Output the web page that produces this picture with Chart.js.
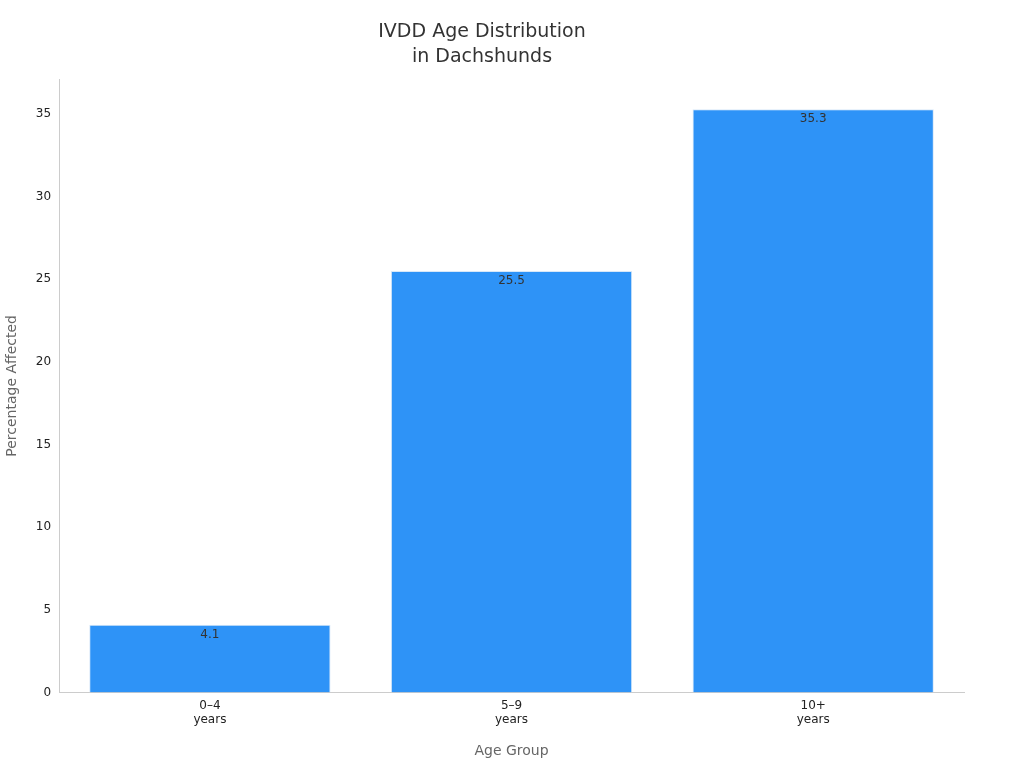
<!DOCTYPE html>
<html>
<head>
<meta charset="utf-8">
<script src="https://cdn.jsdelivr.net/npm/chart.js@4"></script>
<style>
  body { margin: 0; background: #fff; }
  #wrap { width: 1024px; height: 768px; }
</style>
</head>
<body>
<div id="wrap"><canvas id="chart" width="1024" height="768"></canvas></div>
<script>
const ageGroups = [['0–4', 'years'], ['5–9', 'years'], ['10+', 'years']];
const percentAffected = [4.1, 25.5, 35.3];

// draws the value just under the top of each bar
const valueLabels = {
  id: 'valueLabels',
  afterDatasetsDraw(chart) {
    const ctx = chart.ctx;
    ctx.save();
    ctx.font = '12px "DejaVu Sans"';
    ctx.fillStyle = '#333';
    ctx.textAlign = 'center';
    ctx.textBaseline = 'top';
    chart.getDatasetMeta(0).data.forEach((bar, i) => {
      ctx.fillText(String(percentAffected[i]), bar.x, bar.y + 4);
    });
    ctx.restore();
  },
};

new Chart(document.getElementById('chart').getContext('2d'), {
  type: 'bar',
  data: {
    labels: ageGroups,
    datasets: [{
      data: percentAffected,
      backgroundColor: '#2e93f7',
      borderColor: '#d8e8f8',
      borderWidth: 1,
      barPercentage: 0.8,
      categoryPercentage: 1.0,
    }],
  },
  options: {
    responsive: false,
    animation: false,
    layout: { padding: { left: 0, right: 60, top: 10, bottom: 4 } },
    plugins: {
      legend: { display: false },
      tooltip: { enabled: false },
      title: {
        display: true,
        text: ['IVDD Age Distribution', 'in Dachshunds'],
        color: '#333',
        font: { family: 'DejaVu Sans', size: 19, weight: 'normal', lineHeight: 1.3 },
        padding: { top: 10, bottom: 10 },
      },
    },
    scales: {
      x: {
        grid: { display: false, drawTicks: false },
        border: { color: '#ccc' },
        ticks: { color: '#222', font: { family: 'DejaVu Sans', size: 12 }, padding: 6 },
        title: {
          display: true, text: 'Age Group', color: '#666',
          font: { family: 'DejaVu Sans', size: 14 }, padding: { top: 10 },
        },
      },
      y: {
        min: 0,
        max: 37.1,
        grid: { display: false, drawTicks: true, tickLength: 5, tickColor: '#888' },
        border: { color: '#ccc' },
        ticks: {
          stepSize: 5, color: '#222', font: { family: 'DejaVu Sans', size: 12 }, padding: 3,
          callback: (v) => (v % 5 === 0 ? v : ''),
        },
        title: {
          display: true, text: 'Percentage Affected', color: '#666',
          font: { family: 'DejaVu Sans', size: 14 }, padding: { bottom: 12 },
        },
      },
    },
  },
  plugins: [valueLabels],
});
</script>
</body>
</html>
